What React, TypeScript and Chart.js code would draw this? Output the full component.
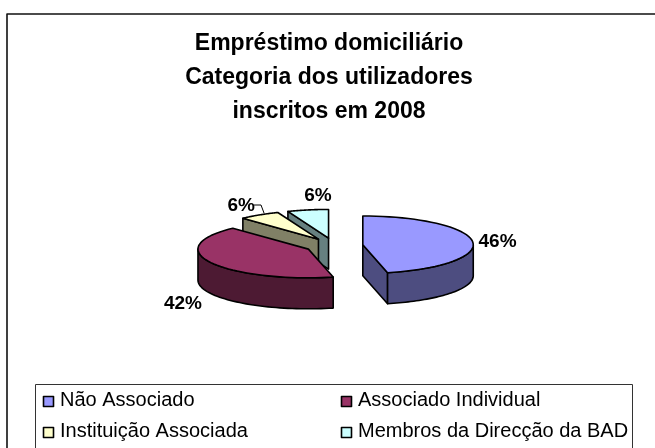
import React, { useEffect, useRef } from "react";
import { Chart, registerables } from "chart.js";

Chart.register(...registerables);

const titleLines = ["Empréstimo domiciliário", "Categoria dos utilizadores", "inscritos em 2008"];
const categories = ["Não Associado", "Associado Individual", "Instituição Associada", "Membros da Direcção da BAD"];
const shares = [46.4, 41.6, 6, 6];
const topColors = ["#9999FF", "#993366", "#FFFFCC", "#CCFFFF"];
const wallColors = ["#4D4D80", "#4D1A33", "#808066", "#668080"];
const paintOrder = [3, 2, 1, 0];
// label anchor relative to each slice's rim point at mid-angle
const labelNudges = [[25, 0], [-28, 41], [-18, -9], [10, -14]];

const FONT = '"Liberation Sans", Arial, sans-serif';
const SQUASH = 0.26;
const DEPTH = 31;
const EXPLODE = 29;
const SHIFT_X = 5;

const pie3d = {
  id: "pie3d",
  beforeDatasetsDraw(chart: any) {
    const { ctx } = chart;
    const arcs = chart.getDatasetMeta(0).data;
    const stroke = () => {
      ctx.lineWidth = 1.6;
      ctx.strokeStyle = "#000";
      ctx.lineJoin = "round";
      ctx.stroke();
    };
    for (const i of paintOrder) {
      const a = arcs[i];
      const s = a.startAngle;
      const e = a.endAngle;
      const m = (s + e) / 2;
      const r = a.outerRadius;
      const ox = a.x + SHIFT_X + EXPLODE * Math.cos(m);
      const oy = a.y + SQUASH * EXPLODE * Math.sin(m);
      const pt = (th: number, d = 0): [number, number] => [ox + r * Math.cos(th), oy + SQUASH * r * Math.sin(th) + d];
      const poly = (pts: [number, number][], fill?: string) => {
        ctx.beginPath();
        pts.forEach((p, k) => (k ? ctx.lineTo(p[0], p[1]) : ctx.moveTo(p[0], p[1])));
        ctx.closePath();
        if (fill) {
          ctx.fillStyle = fill;
          ctx.fill();
        }
        stroke();
      };
      // cut faces that turn towards the viewer
      const rimMid = pt(m);
      for (const th of [s, e]) {
        const p = pt(th);
        const ex = p[0] - ox;
        const ey = p[1] - oy;
        let nx = -ey;
        let ny = ex;
        if (nx * (rimMid[0] - ox) + ny * (rimMid[1] - oy) > 0) {
          nx = -nx;
          ny = -ny;
        }
        if (ny > 0) {
          poly([[ox, oy], p, [p[0], p[1] + DEPTH], [ox, oy + DEPTH]], wallColors[i]);
        }
      }
      // outer wall, only where it faces the viewer
      const lo = Math.max(s, 0);
      const hi = Math.min(e, Math.PI);
      if (hi > lo) {
        const top: [number, number][] = [];
        const bottom: [number, number][] = [];
        for (let k = 0; k <= 48; k++) {
          const th = lo + ((hi - lo) * k) / 48;
          top.push(pt(th));
          bottom.unshift(pt(th, DEPTH));
        }
        poly([...top, ...bottom], wallColors[i]);
      }
      // the slice top, drawn by the library's own arc element
      ctx.save();
      ctx.translate(ox, oy);
      ctx.scale(1, SQUASH);
      ctx.translate(-a.x, -a.y);
      a.draw(ctx);
      ctx.restore();
      const rim: [number, number][] = [[ox, oy]];
      for (let k = 0; k <= 48; k++) rim.push(pt(s + ((e - s) * k) / 48));
      poly(rim);
    }
    return false;
  },
  afterDraw(chart: any) {
    const { ctx } = chart;
    const arcs = chart.getDatasetMeta(0).data;
    ctx.save();
    // chart frame
    ctx.beginPath();
    ctx.moveTo(7, 448);
    ctx.lineTo(7, 14);
    ctx.lineTo(655, 14);
    ctx.lineWidth = 1.6;
    ctx.strokeStyle = "#111";
    ctx.stroke();

    // percentage labels
    ctx.fillStyle = "#000";
    ctx.font = `bold 19px ${FONT}`;
    ctx.textAlign = "center";
    ctx.textBaseline = "middle";
    const total = shares.reduce((x, y) => x + y, 0);
    arcs.forEach((a: any, i: number) => {
      const m = (a.startAngle + a.endAngle) / 2;
      const rx = a.x + SHIFT_X + (EXPLODE + a.outerRadius) * Math.cos(m);
      const ry = a.y + SQUASH * (EXPLODE + a.outerRadius) * Math.sin(m);
      ctx.fillText(`${Math.round((shares[i] / total) * 100)}%`, rx + labelNudges[i][0], ry + labelNudges[i][1]);
    });

    // leader line of the third slice
    ctx.beginPath();
    ctx.moveTo(254, 205);
    ctx.lineTo(261, 205);
    ctx.lineTo(264, 213);
    ctx.lineWidth = 1;
    ctx.strokeStyle = "#000";
    ctx.stroke();

    // legend
    ctx.strokeStyle = "#333";
    ctx.lineWidth = 1;
    ctx.strokeRect(35.5, 384.5, 597, 70);
    ctx.font = `20px ${FONT}`;
    ctx.textAlign = "left";
    const colX = [43, 341];
    const rowY = [400, 431];
    categories.forEach((label, i) => {
      const x = colX[i % 2];
      const y = rowY[Math.floor(i / 2)];
      ctx.fillStyle = topColors[i];
      ctx.fillRect(x + 0.5, y - 3.5, 10, 10);
      ctx.strokeStyle = "#000";
      ctx.lineWidth = 1.6;
      ctx.strokeRect(x + 0.5, y - 3.5, 10, 10);
      ctx.fillStyle = "#000";
      ctx.fillText(label, x + 17, y);
    });
    ctx.restore();
  },
};

export default function App() {
  const ref = useRef<HTMLCanvasElement | null>(null);
  useEffect(() => {
    const chart = new Chart(ref.current as HTMLCanvasElement, {
      type: "pie",
      data: {
        labels: categories,
        datasets: [{ data: shares, backgroundColor: topColors, borderWidth: 0 }],
      },
      options: {
        responsive: false,
        animation: false,
        layout: { padding: { left: 3, right: 0, top: 0, bottom: 92 } },
        plugins: {
          legend: { display: false },
          tooltip: { enabled: false },
          title: {
            display: true,
            text: titleLines,
            color: "#000",
            font: { family: FONT, size: 23, weight: "bold", lineHeight: 1.48 },
            padding: { top: 27, bottom: 6 },
          },
        },
      },
      plugins: [pie3d],
    } as any);
    return () => chart.destroy();
  }, []);
  return (
    <canvas
      ref={ref}
      width={655}
      height={448}
      style={{ position: "fixed", left: 0, top: 0, width: 655, height: 448, display: "block", background: "#fff" }}
    />
  );
}
